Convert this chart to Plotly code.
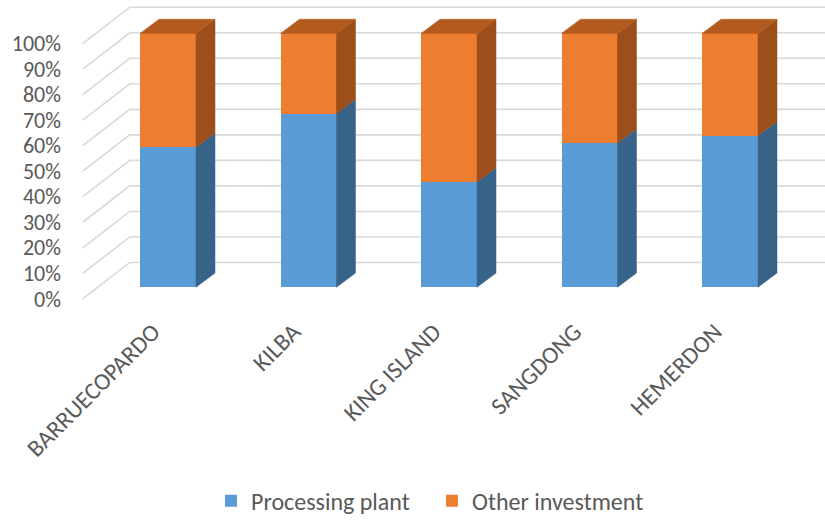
import plotly.graph_objects as go

# ---- data -------------------------------------------------------------
sites = ["BARRUECOPARDO", "KILBA", "KING ISLAND", "SANGDONG", "HEMERDON"]
processing_plant = [55.1, 68.4, 41.5, 56.8, 59.7]
other_investment = [44.9, 31.6, 58.5, 43.2, 40.3]
series_names = ["Processing plant", "Other investment"]
pct_ticks = [0, 10, 20, 30, 40, 50, 60, 70, 80, 90, 100]

# ---- styling ------------------------------------------------------------
BLUE, BLUE_SIDE = "#5b9bd5", "#386389"
ORANGE, ORANGE_SIDE, ORANGE_TOP = "#ed7d31", "#9c4e1b", "#b35b1f"
GRID = "#d9d9d9"
TEXT = "#595959"
FONT = "Calibri, Carlito, Lato, sans-serif"
FONT_SIZE = 24
PCT_FONT_SIZE = 22

# ---- geometry of the oblique 3-D projection (pixels) ---------------------
W, H = 825, 524
L, B = 64, 315              # plot area: left edge and bottom edge
STEP = 140.5                # pixels per category
FX0, FY0, FSC = 153, 301.7, 257.7   # floor front edge plane (axis labels)
BX0, BY0, BSC = 168, 290.0, 256.3   # bar front-face plane
BAR_W = 56 / STEP
DEPTH_X, DEPTH_Y = 19 / STEP, 14.3 / BSC     # bar depth
WALL_X, WALL_Y = 47 / STEP, 36.7 / FSC       # floor depth to back wall
FLOOR_LEFT = -0.5

x_rng = [(L - FX0) / STEP, (W - FX0) / STEP]
y_rng = [(FY0 - B) / FSC, FY0 / FSC]
x2_rng = [(L - BX0) / STEP, (W - BX0) / STEP]
y2_rng = [(BY0 - B) / BSC, BY0 / BSC]

# shares of each site's total
totals = [p + o for p, o in zip(processing_plant, other_investment)]
proc_share = [p / t for p, t in zip(processing_plant, totals)]
other_share = [o / t for o, t in zip(other_investment, totals)]

fig = go.Figure()

# side wall diagonals and back wall gridlines
gx, gy = [], []
for t in pct_ticks:
    v = t / 100
    gx += [FLOOR_LEFT, FLOOR_LEFT + WALL_X, x_rng[1], None]
    gy += [v, v + WALL_Y, v + WALL_Y, None]
fig.add_trace(go.Scatter(
    x=gx, y=gy, mode="lines", line=dict(color=GRID, width=1.6),
    hoverinfo="skip", showlegend=False, xaxis="x", yaxis="y"))

# front faces of the stacked bars
idx = list(range(len(sites)))
fig.add_trace(go.Bar(
    x=idx, y=proc_share, name=series_names[0], marker=dict(color=BLUE, line=dict(width=0)),
    width=BAR_W, xaxis="x2", yaxis="y2", hoverinfo="skip"))
fig.add_trace(go.Bar(
    x=idx, y=other_share, name=series_names[1], marker=dict(color=ORANGE, line=dict(width=0)),
    width=BAR_W, xaxis="x2", yaxis="y2", hoverinfo="skip"))


def face(xs, ys, color):
    fig.add_trace(go.Scatter(
        x=xs + [xs[0]], y=ys + [ys[0]], mode="lines", fill="toself",
        fillcolor=color, line=dict(color=color, width=0.5),
        hoverinfo="skip", showlegend=False, xaxis="x2", yaxis="y2"))


# right-hand sides and tops of the bars
for i, (p, o) in enumerate(zip(proc_share, other_share)):
    xl, xr = i - BAR_W / 2, i + BAR_W / 2
    top = p + o
    face([xr, xr + DEPTH_X, xr + DEPTH_X, xr],
         [0, DEPTH_Y, p + DEPTH_Y, p], BLUE_SIDE)
    face([xr, xr + DEPTH_X, xr + DEPTH_X, xr],
         [p, p + DEPTH_Y, top + DEPTH_Y, top], ORANGE_SIDE)
    face([xl, xl + DEPTH_X, xr + DEPTH_X, xr],
         [top, top + DEPTH_Y, top + DEPTH_Y, top], ORANGE_TOP)

fig.update_layout(
    width=W, height=H,
    margin=dict(l=L, r=0, t=0, b=H - B, pad=0),
    paper_bgcolor="white", plot_bgcolor="rgba(0,0,0,0)",
    barmode="stack", bargap=0,
    font=dict(family=FONT, color=TEXT),
    xaxis=dict(range=x_rng, tickvals=idx, ticktext=sites, tickangle=-45,
               tickfont=dict(family=FONT, size=FONT_SIZE, color=TEXT),
               showgrid=False, zeroline=False,
               showline=False, ticks="", fixedrange=True),
    yaxis=dict(range=y_rng, tickvals=[t / 100 for t in pct_ticks],
               ticktext=[f"{t}%" for t in pct_ticks],
               tickfont=dict(family=FONT, size=PCT_FONT_SIZE, color=TEXT),
               showgrid=False, zeroline=False, showline=False, ticks="",
               ticklabelstandoff=2, fixedrange=True),
    xaxis2=dict(range=x2_rng, overlaying="x", anchor="y2", visible=False),
    yaxis2=dict(range=y2_rng, overlaying="y", anchor="x2", visible=False),
    legend=dict(orientation="h", traceorder="normal", entrywidth=176,
                x=(432 - L) / (W - L), xanchor="center",
                y=(B - 506) / B, yanchor="middle",
                font=dict(family=FONT, size=FONT_SIZE, color=TEXT),
                bgcolor="rgba(0,0,0,0)"),
    showlegend=True,
)

fig.write_html("out.html")
